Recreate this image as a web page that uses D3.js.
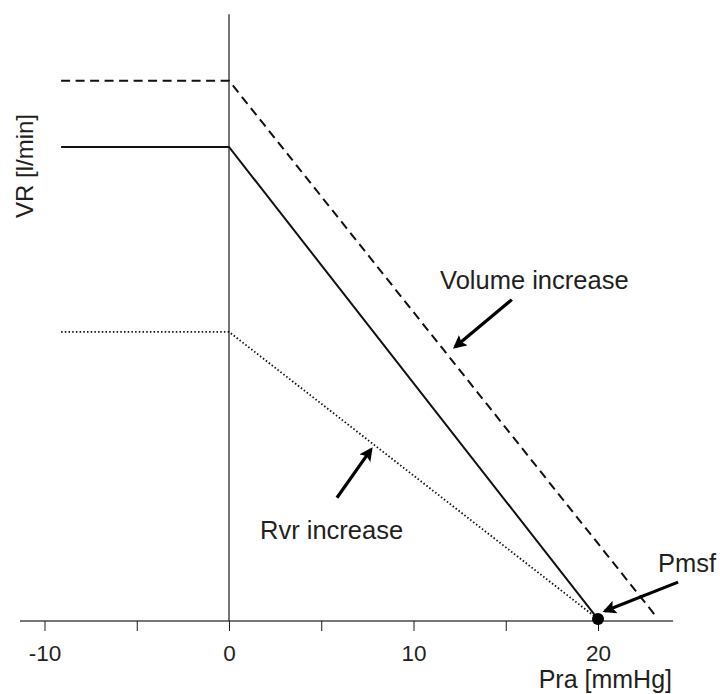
<!DOCTYPE html>
<html>
<head>
<meta charset="utf-8">
<script src="https://cdn.jsdelivr.net/npm/d3@7"></script>
<style>
  html, body { margin: 0; padding: 0; background: #fff; }
  svg { display: block; }
  text { font-family: "Liberation Sans", Arial, sans-serif; fill: #231f20; }
</style>
</head>
<body>
<svg id="chart" width="720" height="694"></svg>
<script>
// Venous return curves: VR [l/min] against right atrial pressure Pra [mmHg]
const baseline = [[-9.1, 5.0], [0, 5.0], [20.0, 0.02]];        // normal curve, ends at Pmsf
const volumeIncrease = [[-9.1, 5.7], [0, 5.7], [23.1, 0.06]];  // shifted parallel to the right
const rvrIncrease = [[-9.1, 3.05], [0, 3.05], [20.0, 0.02]];   // flatter, same Pmsf
const pmsf = [20.0, 0.02];

const xTicks = [-10, -5, 0, 5, 10, 15, 20];
const xTickLabels = [-10, 0, 10, 20];

// annotation labels and arrows (tail -> tip) in data units
const annotations = [
  { text: "Volume increase", at: [11.44, 3.50], from: [15.33, 3.39], to: [12.25, 2.89] },
  { text: "Rvr increase", at: [1.68, 0.86], from: [5.85, 1.30], to: [7.70, 1.81] },
  { text: "Pmsf", at: [23.25, 0.52], from: [24.34, 0.41], to: [20.38, 0.105] }
];

const svg = d3.select("#chart");
const x = d3.scaleLinear().domain([0, 20]).range([229, 598]);
const y = d3.scaleLinear().domain([0, 5]).range([621, 147]);

// axes
svg.append("line")
  .attr("x1", x(-11.33)).attr("x2", x(24.07))
  .attr("y1", y(0)).attr("y2", y(0))
  .attr("stroke", "#4a4a4a").attr("stroke-width", 1.5);
svg.append("line")
  .attr("x1", x(0)).attr("x2", x(0))
  .attr("y1", y(0)).attr("y2", y(6.4))
  .attr("stroke", "#1a1a1a").attr("stroke-width", 1.2);

const xAxis = d3.axisBottom(x).tickValues(xTicks).tickSize(10).tickPadding(14)
  .tickFormat(d => xTickLabels.includes(d) ? d : "");
const gx = svg.append("g").attr("transform", `translate(0,${y(0)})`).call(xAxis);
gx.select(".domain").remove();
gx.selectAll(".tick line").attr("stroke", "#1a1a1a").attr("stroke-width", 1);
gx.selectAll(".tick text")
  .attr("font-size", 22.5).attr("font-family", "Liberation Sans, Arial, sans-serif")
  .attr("fill", "#231f20");

svg.append("text")
  .attr("x", 672).attr("y", 688)
  .attr("text-anchor", "end").attr("font-size", 25)
  .text("Pra [mmHg]");
svg.append("text")
  .attr("transform", `translate(33,166) rotate(-90)`)
  .attr("text-anchor", "middle").attr("font-size", 24)
  .text("VR [l/min]");

// curves
const line = d3.line().x(d => x(d[0])).y(d => y(d[1]));
svg.append("path").datum(volumeIncrease).attr("d", line)
  .attr("fill", "none").attr("stroke", "#111").attr("stroke-width", 2)
  .attr("stroke-dasharray", "9,5.5");
svg.append("path").datum(baseline).attr("d", line)
  .attr("fill", "none").attr("stroke", "#111").attr("stroke-width", 2);
svg.append("path").datum(rvrIncrease).attr("d", line)
  .attr("fill", "none").attr("stroke", "#111").attr("stroke-width", 1.8)
  .attr("stroke-dasharray", "1.5,2.2");

svg.append("circle")
  .attr("cx", x(pmsf[0])).attr("cy", y(pmsf[1])).attr("r", 6)
  .attr("fill", "#000");

// arrows
const defs = svg.append("defs");
defs.append("marker")
  .attr("id", "head").attr("viewBox", "0 0 10 10")
  .attr("refX", 8).attr("refY", 5)
  .attr("markerWidth", 4.2).attr("markerHeight", 4.2)
  .attr("markerUnits", "strokeWidth").attr("orient", "auto")
  .append("path").attr("d", "M0,0 L10,5 L0,10 L2,5 Z").attr("fill", "#000");

annotations.forEach(a => {
  svg.append("line")
    .attr("x1", x(a.from[0])).attr("y1", y(a.from[1]))
    .attr("x2", x(a.to[0])).attr("y2", y(a.to[1]))
    .attr("stroke", "#000").attr("stroke-width", 3.2)
    .attr("marker-end", "url(#head)");
  svg.append("text")
    .attr("x", x(a.at[0])).attr("y", y(a.at[1]))
    .attr("font-size", 25.5)
    .text(a.text);
});
</script>
</body>
</html>
